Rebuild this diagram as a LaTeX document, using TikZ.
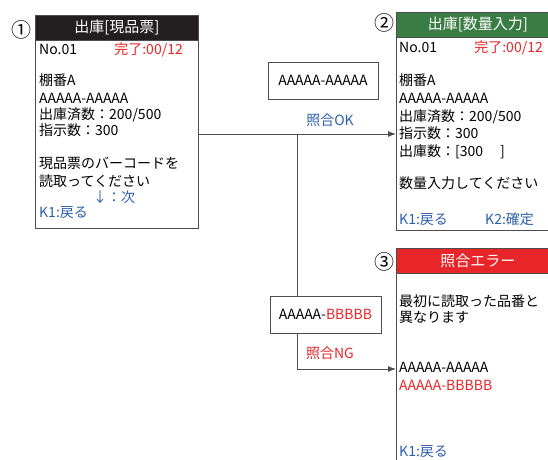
\documentclass[tikz,border=0pt]{standalone}
\usepackage{fontspec}
\setmainfont{Noto Sans CJK JP}
\usetikzlibrary{arrows.meta}
\definecolor{hdrblack}{HTML}{231F20}
\definecolor{hdrgreen}{HTML}{3A7D44}
\definecolor{hdrred}{HTML}{E8262A}
\definecolor{txtblue}{HTML}{2E5FAA}
\definecolor{txtred}{HTML}{E8262A}
\definecolor{framegray}{HTML}{4D4D4D}
\begin{document}
\begin{tikzpicture}[x=1pt,y=-1pt,
  screen/.style={draw=framegray,line width=0.9pt,fill=white,minimum width=163pt,inner sep=0pt,anchor=north west},
  hdr/.style={draw=framegray,line width=0.9pt,minimum width=163pt,minimum height=25pt,inner sep=0pt,anchor=north west,text=white,font=\fontsize{15}{17}\selectfont},
  txt/.style={anchor=west,inner sep=0pt,text height=11pt,text depth=3pt,font=\fontsize{14}{16}\selectfont},
  blu/.style={txt,text=txtblue},
  rd/.style={txt,text=txtred},
  codebox/.style={draw=framegray,line width=0.9pt,fill=white,minimum width=110pt,minimum height=37pt,inner sep=0pt,font=\fontsize{14}{16}\selectfont},
  lbl/.style={inner sep=0pt,font=\fontsize{14}{16}\selectfont},
  num/.style={inner sep=0pt,font=\fontsize{20}{20}\selectfont},
  conn/.style={draw=framegray,line width=0.9pt},
  arr/.style={conn,-{Latex[length=8pt,width=6pt]}}
]
\useasboundingbox (0,0) rectangle (548,459);
\begin{scope}
\clip (0,0) rectangle (548,459);

% junction points of the connectors
\coordinate (j) at (297,134);
\coordinate (k) at (297,369);

% screen 1
\node[screen,minimum height=213pt] (s1) at (35,15) {};
\node[hdr,fill=hdrblack] (h1) at (35,15) {出庫[現品票]};
\node[num] (n1) at (22,30) {①};
\node[txt] (a1) at (39,50) {No.01};
\node[rd,anchor=east] (a2) at (183,50) {完了:00/12};
\node[txt] (a3) at (39,81) {棚番A};
\node[txt] (a4) at (39,99) {AAAAA-AAAAA};
\node[txt] (a5) at (39,115) {出庫済数：200/500};
\node[txt] (a6) at (39,131) {指示数：300};
\node[txt] (a7) at (39,164) {現品票のバーコードを};
\node[txt] (a8) at (39,182) {読取ってください};
\node[blu] (a9) at (93,198) {↓：次};
\node[blu] (a10) at (39,213) {K1:戻る};

% screen 2
\node[screen,minimum height=218pt] (s2) at (396,12) {};
\node[hdr,fill=hdrgreen] (h2) at (396,12) {出庫[数量入力]};
\node[num] (n2) at (384,23) {②};
\node[txt] (b1) at (399,48) {No.01};
\node[rd,anchor=east] (b2) at (543,48) {完了:00/12};
\node[txt] (b3) at (399,81) {棚番A};
\node[txt] (b4) at (399,99) {AAAAA-AAAAA};
\node[txt] (b5) at (399,117) {出庫済数：200/500};
\node[txt] (b6) at (399,134) {指示数：300};
\node[txt] (b7) at (399,152) {出庫数：[300\hspace{17pt}]};
\node[txt] (b8) at (399,184) {数量入力してください};
\node[blu] (b9) at (399,220) {K1:戻る};
\node[blu] (b10) at (485,220) {K2:確定};

% screen 3
\node[screen,minimum height=240pt] (s3) at (396,248) {};
\node[hdr,fill=hdrred] (h3) at (396,248) {照合エラー};
\node[num] (n3) at (384,262) {③};
\node[txt] (c1) at (399,302) {最初に読取った品番と};
\node[txt] (c2) at (399,318) {異なります};
\node[txt] (c3) at (399,368) {AAAAA-AAAAA};
\node[rd] (c4) at (399,386) {AAAAA-BBBBB};
\node[blu] (c5) at (399,452) {K1:戻る};

% connectors, code boxes and labels
\draw[arr] (s1.east |- j) -- (s2.west |- j);
\draw[conn] (j) -- (297,300);
\node[codebox] (ok) at (323,80.5) {AAAAA-AAAAA};
\node[lbl,text=txtblue] (okl) at (330,120) {照合OK};
\node[codebox,minimum width=111pt] (ng) at (325.5,314.5) {AAAAA-\textcolor{txtred}{BBBBB}};
\node[lbl,text=txtred] (ngl) at (330,353) {照合NG};
\draw[arr] (j |- ng.south) -- (k) -- (s3.west |- k);
\end{scope}
\end{tikzpicture}
\end{document}
